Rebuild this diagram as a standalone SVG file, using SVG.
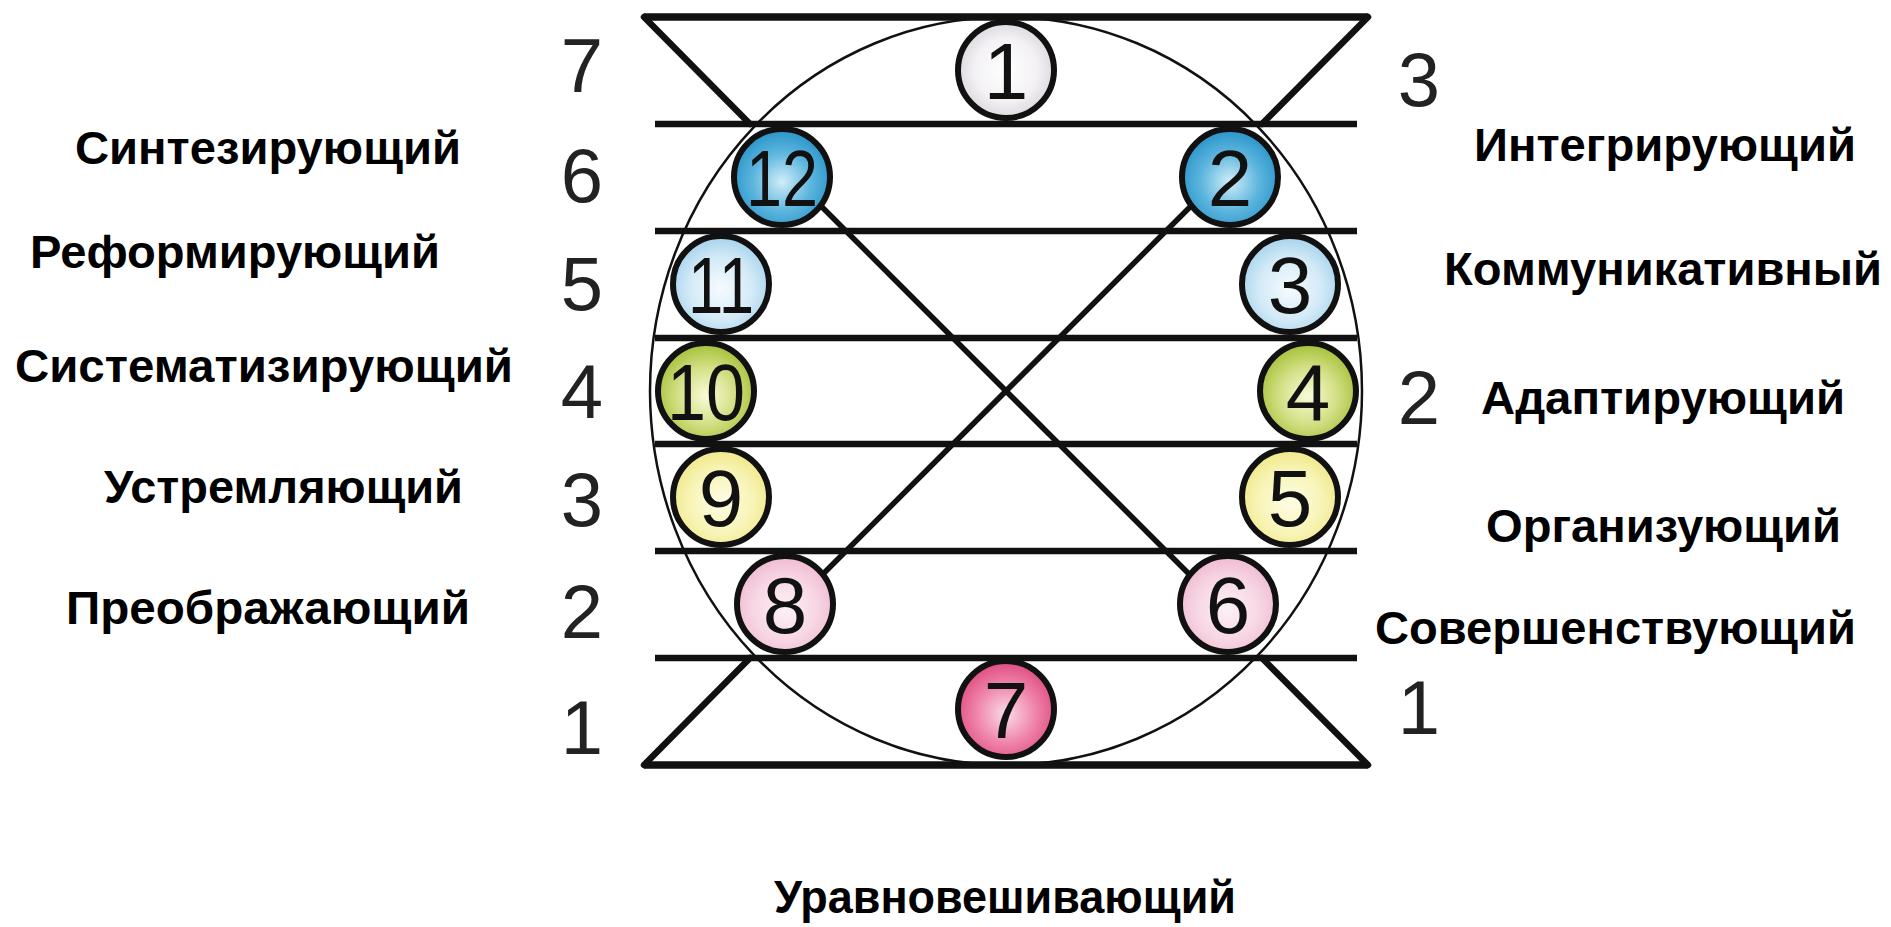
<svg xmlns="http://www.w3.org/2000/svg" width="1891" height="927" viewBox="0 0 1891 927">
<defs>
<style>
.bg{fill:#ffffff}
.frame{fill:none;stroke:#111;stroke-width:2.5}
.hl{stroke:#111;stroke-width:6.5;stroke-linecap:butt}
.edge{stroke:#111;stroke-width:7.5;stroke-linecap:butt}
.tri{stroke:#111;stroke-width:6.5;stroke-linecap:round}
.xl{stroke:#111;stroke-width:5.5}
.node{stroke:#111;stroke-width:6}
.num{font-family:"Liberation Sans",Arial,sans-serif;font-size:80px;fill:#111;text-anchor:middle}
.side{font-family:"Liberation Sans",Arial,sans-serif;font-size:76px;fill:#222;text-anchor:middle}
.lbl{font-family:"Liberation Sans",Arial,sans-serif;font-size:46px;font-weight:bold;fill:#000}
</style>
<radialGradient id="gWhite" cx="50%" cy="50%" r="55%"><stop offset="0" stop-color="#ffffff"/><stop offset="0.6" stop-color="#f3f1f4"/><stop offset="1" stop-color="#d6d2da"/></radialGradient>
<radialGradient id="gBlue" cx="50%" cy="55%" r="55%"><stop offset="0" stop-color="#d2edf8"/><stop offset="0.55" stop-color="#5db6de"/><stop offset="1" stop-color="#2893c9"/></radialGradient>
<radialGradient id="gLBlue" cx="50%" cy="55%" r="55%"><stop offset="0" stop-color="#f6fbfe"/><stop offset="0.6" stop-color="#d3eaf7"/><stop offset="1" stop-color="#a4d2ec"/></radialGradient>
<radialGradient id="gGreen" cx="50%" cy="55%" r="55%"><stop offset="0" stop-color="#fafbd8"/><stop offset="0.55" stop-color="#d3df84"/><stop offset="1" stop-color="#a3bf36"/></radialGradient>
<radialGradient id="gYellow" cx="50%" cy="55%" r="55%"><stop offset="0" stop-color="#fefde6"/><stop offset="0.6" stop-color="#f8f4b6"/><stop offset="1" stop-color="#efe888"/></radialGradient>
<radialGradient id="gLPink" cx="50%" cy="55%" r="55%"><stop offset="0" stop-color="#fdf1f6"/><stop offset="0.6" stop-color="#f7d6e4"/><stop offset="1" stop-color="#efbad0"/></radialGradient>
<radialGradient id="gPink" cx="50%" cy="55%" r="55%"><stop offset="0" stop-color="#fbdce8"/><stop offset="0.55" stop-color="#ef86ab"/><stop offset="1" stop-color="#de4a80"/></radialGradient>
</defs>
<rect class="bg" x="0" y="0" width="1891" height="927"/>

<g id="frame">
<ellipse class="frame" cx="1006" cy="391" rx="356" ry="374"/>
</g>

<g id="connectors">
<line class="edge" x1="644" y1="17" x2="1368" y2="17"/>
<line class="hl" x1="655" y1="124" x2="1357" y2="124"/>
<line class="hl" x1="655" y1="231" x2="1357" y2="231"/>
<line class="hl" x1="655" y1="338" x2="1357" y2="338"/>
<line class="hl" x1="655" y1="444" x2="1357" y2="444"/>
<line class="hl" x1="655" y1="551" x2="1357" y2="551"/>
<line class="hl" x1="655" y1="658" x2="1357" y2="658"/>
<line class="edge" x1="644" y1="765" x2="1368" y2="765"/>
<line class="tri" x1="644" y1="17" x2="750" y2="124"/>
<line class="tri" x1="1368" y1="17" x2="1262" y2="124"/>
<line class="tri" x1="644" y1="765" x2="750" y2="658"/>
<line class="tri" x1="1368" y1="765" x2="1262" y2="658"/>
<line class="xl" x1="792" y1="177" x2="1220" y2="605"/>
<line class="xl" x1="1220" y1="177" x2="792" y2="605"/>
</g>

<g id="n1"><circle class="node" cx="1006" cy="70" r="48" fill="url(#gWhite)"/><text class="num" x="1006" y="99">1</text></g>
<g id="n2"><circle class="node" cx="1230" cy="177" r="48" fill="url(#gBlue)"/><text class="num" x="1230" y="206">2</text></g>
<g id="n3"><circle class="node" cx="1290" cy="284" r="48" fill="url(#gLBlue)"/><text class="num" x="1290" y="313">3</text></g>
<g id="n4"><circle class="node" cx="1308" cy="391" r="48" fill="url(#gGreen)"/><text class="num" x="1308" y="420">4</text></g>
<g id="n5"><circle class="node" cx="1290" cy="497" r="48" fill="url(#gYellow)"/><text class="num" x="1290" y="526">5</text></g>
<g id="n6"><circle class="node" cx="1228" cy="604" r="48" fill="url(#gLPink)"/><text class="num" x="1228" y="633">6</text></g>
<g id="n7"><circle class="node" cx="1006" cy="709" r="48" fill="url(#gPink)"/><text class="num" x="1006" y="738">7</text></g>
<g id="n8"><circle class="node" cx="785" cy="604" r="48" fill="url(#gLPink)"/><text class="num" x="785" y="633">8</text></g>
<g id="n9"><circle class="node" cx="721" cy="497" r="48" fill="url(#gYellow)"/><text class="num" x="721" y="526">9</text></g>
<g id="n10"><circle class="node" cx="706" cy="391" r="48" fill="url(#gGreen)"/><text class="num" x="706" y="420" textLength="78" lengthAdjust="spacingAndGlyphs">10</text></g>
<g id="n11"><circle class="node" cx="721" cy="284" r="48" fill="url(#gLBlue)"/><text class="num" x="721" y="313" textLength="66" lengthAdjust="spacingAndGlyphs">11</text></g>
<g id="n12"><circle class="node" cx="782" cy="177" r="48" fill="url(#gBlue)"/><text class="num" x="782" y="206" textLength="72" lengthAdjust="spacingAndGlyphs">12</text></g>

<g id="levels-left">
<text class="side" x="582" y="92">7</text>
<text class="side" x="582" y="202">6</text>
<text class="side" x="582" y="310">5</text>
<text class="side" x="582" y="418">4</text>
<text class="side" x="582" y="526">3</text>
<text class="side" x="582" y="638">2</text>
<text class="side" x="582" y="754">1</text>
</g>
<g id="levels-right">
<text class="side" x="1419" y="106">3</text>
<text class="side" x="1419" y="424">2</text>
<text class="side" x="1419" y="734">1</text>
</g>

<g id="labels-left">
<text class="lbl" x="75" y="164" textLength="386" lengthAdjust="spacingAndGlyphs">Синтезирующий</text>
<text class="lbl" x="30" y="268" textLength="410" lengthAdjust="spacingAndGlyphs">Реформирующий</text>
<text class="lbl" x="15" y="382" textLength="498" lengthAdjust="spacingAndGlyphs">Систематизирующий</text>
<text class="lbl" x="104" y="503" textLength="359" lengthAdjust="spacingAndGlyphs">Устремляющий</text>
<text class="lbl" x="66" y="624" textLength="404" lengthAdjust="spacingAndGlyphs">Преображающий</text>
</g>
<g id="labels-right">
<text class="lbl" x="1474" y="161" textLength="382" lengthAdjust="spacingAndGlyphs">Интегрирующий</text>
<text class="lbl" x="1444" y="285" textLength="438" lengthAdjust="spacingAndGlyphs">Коммуникативный</text>
<text class="lbl" x="1481" y="414" textLength="364" lengthAdjust="spacingAndGlyphs">Адаптирующий</text>
<text class="lbl" x="1486" y="542" textLength="355" lengthAdjust="spacingAndGlyphs">Организующий</text>
<text class="lbl" x="1375" y="644" textLength="481" lengthAdjust="spacingAndGlyphs">Совершенствующий</text>
</g>
<g id="label-bottom">
<text class="lbl" x="774" y="913" textLength="462" lengthAdjust="spacingAndGlyphs">Уравновешивающий</text>
</g>
</svg>
